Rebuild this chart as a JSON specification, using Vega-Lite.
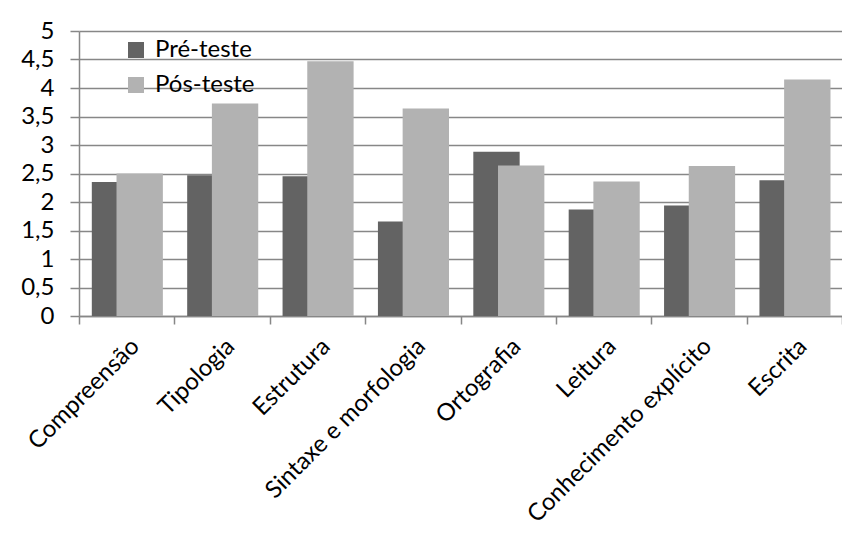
{
  "$schema": "https://vega.github.io/schema/vega-lite/v6.json",
  "autosize": {"type": "none"},
  "padding": {"left": 79, "top": 31, "right": 0, "bottom": 217},
  "width": 763,
  "height": 285,
  "background": "white",
  "config": {
    "font": "Lato",
    "view": {"stroke": null},
    "axis": {
      "labelFont": "Lato",
      "labelFontSize": 24,
      "labelColor": "#000000",
      "domainColor": "#878787",
      "domainWidth": 1.5,
      "tickColor": "#878787",
      "tickWidth": 1.5,
      "gridColor": "#878787",
      "gridWidth": 1.5
    }
  },
  "data": {
    "values": [
      {"area": "Compreensão", "teste": "Pré-teste", "valor": 2.35},
      {"area": "Compreensão", "teste": "Pós-teste", "valor": 2.5},
      {"area": "Tipologia", "teste": "Pré-teste", "valor": 2.47},
      {"area": "Tipologia", "teste": "Pós-teste", "valor": 3.73},
      {"area": "Estrutura", "teste": "Pré-teste", "valor": 2.45},
      {"area": "Estrutura", "teste": "Pós-teste", "valor": 4.47},
      {"area": "Sintaxe e morfologia", "teste": "Pré-teste", "valor": 1.66},
      {"area": "Sintaxe e morfologia", "teste": "Pós-teste", "valor": 3.64},
      {"area": "Ortografia", "teste": "Pré-teste", "valor": 2.88},
      {"area": "Ortografia", "teste": "Pós-teste", "valor": 2.64},
      {"area": "Leitura", "teste": "Pré-teste", "valor": 1.87},
      {"area": "Leitura", "teste": "Pós-teste", "valor": 2.36},
      {"area": "Conhecimento explícito", "teste": "Pré-teste", "valor": 1.94},
      {"area": "Conhecimento explícito", "teste": "Pós-teste", "valor": 2.63},
      {"area": "Escrita", "teste": "Pré-teste", "valor": 2.38},
      {"area": "Escrita", "teste": "Pós-teste", "valor": 4.15}
    ]
  },
  "encoding": {
    "x": {
      "field": "area",
      "type": "nominal",
      "sort": null,
      "title": null,
      "scale": {"paddingInner": 0, "paddingOuter": 0},
      "axis": {
        "labelAngle": -45,
        "tickBand": "extent",
        "tickSize": 8,
        "labelPadding": 10,
        "grid": false,
        "labelLimit": 400
      }
    },
    "y": {
      "field": "valor",
      "type": "quantitative",
      "title": null,
      "scale": {"domain": [0, 5], "nice": false},
      "axis": {
        "values": [0, 0.5, 1, 1.5, 2, 2.5, 3, 3.5, 4, 4.5, 5],
        "labelExpr": "replace(format(datum.value, '~g'), '.', ',')",
        "tickSize": 9,
        "labelPadding": 16,
        "grid": true
      }
    },
    "color": {
      "field": "teste",
      "type": "nominal",
      "title": null,
      "scale": {"domain": ["Pré-teste", "Pós-teste"], "range": ["#636363", "#b2b2b2"]},
      "legend": {
        "orient": "none",
        "legendX": 45,
        "legendY": 7,
        "padding": 0,
        "symbolType": "square",
        "symbolSize": 256,
        "symbolStrokeWidth": 0,
        "symbolOpacity": 1,
        "labelFont": "Lato",
        "labelFontSize": 24,
        "labelColor": "#000000",
        "labelOffset": 7,
        "rowPadding": 11
      }
    }
  },
  "layer": [
    {
      "transform": [{"filter": "datum.teste === 'Pré-teste'"}],
      "mark": {"type": "bar", "width": {"band": 0.486}, "xOffset": -11.7}
    },
    {
      "transform": [{"filter": "datum.teste === 'Pós-teste'"}],
      "mark": {"type": "bar", "width": {"band": 0.486}, "xOffset": 13}
    }
  ]
}
